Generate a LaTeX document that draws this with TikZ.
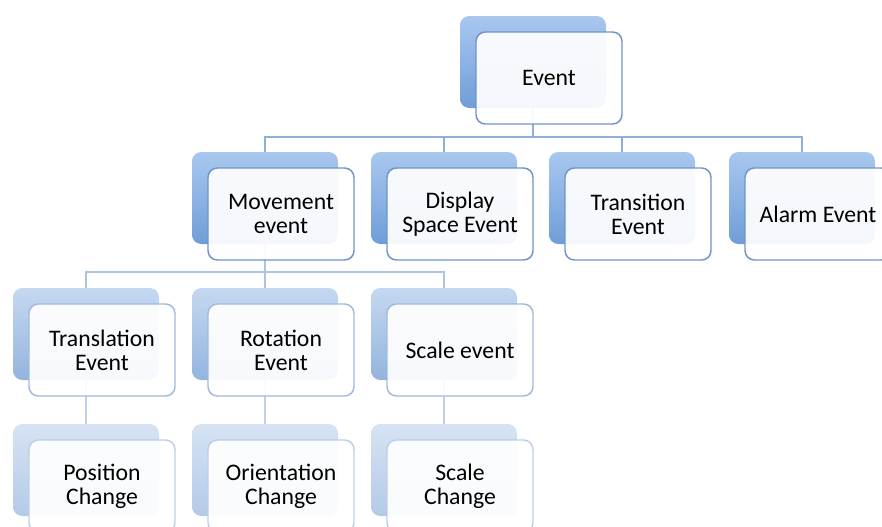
\documentclass[tikz,border=0pt]{standalone}
\usepackage{fontspec}
\setmainfont{Carlito}
\usetikzlibrary{positioning}

\definecolor{shadeTopA}{HTML}{A9C7EF}
\definecolor{shadeBotA}{HTML}{6E9ED8}
\definecolor{shadeTopB}{HTML}{C5D8F1}
\definecolor{shadeBotB}{HTML}{93B4DE}
\definecolor{shadeTopC}{HTML}{D6E3F4}
\definecolor{shadeBotC}{HTML}{B3CAE7}
\definecolor{edgeA}{HTML}{6F95C6}
\definecolor{edgeB}{HTML}{A0BADC}
\definecolor{edgeC}{HTML}{BDCFE7}
\definecolor{linkA}{HTML}{8FAFD9}
\definecolor{linkB}{HTML}{AEC3E2}
\definecolor{linkC}{HTML}{BFD0E8}

\newcommand{\lblfont}{\fontsize{17.8}{18}\selectfont}

\begin{document}
\begin{tikzpicture}[x=0.75pt, y=-0.75pt,
    box/.style={rounded corners=7pt, minimum width=109.5pt, minimum height=69pt, inner sep=0pt},
    back1/.style={box, top color=shadeTopA, bottom color=shadeBotA},
    back2/.style={box, top color=shadeTopB, bottom color=shadeBotB},
    back3/.style={box, top color=shadeTopC, bottom color=shadeBotC},
    front/.style={box, fill=white, fill opacity=0.93, text opacity=1, line width=1.1pt, align=center, font=\lblfont},
    front1/.style={front, draw=edgeA},
    front2/.style={front, draw=edgeB},
    front3/.style={front, draw=edgeC},
    link1/.style={draw=linkA, line width=1.1pt},
    link2/.style={draw=linkB, line width=1.1pt},
    link3/.style={draw=linkC, line width=1.1pt}]
    \useasboundingbox (0,0) rectangle (882,526);
    \clip (0,0) rectangle (882,526);
    % Back boxes
    \foreach \name/\x/\y/\lv in {ev/533/62/1, mov/265/198/1, dis/444/198/1, tra/622/198/1, ala/802/198/1,
        trl/86/334/2, rot/265/334/2, sca/444/334/2,
        pos/86/470/3, ori/265/470/3, scc/444/470/3} {
        \node[back\lv] (\name-b) at (\x,\y) {};
    }
    % Connectors
    \coordinate (bus-1) at (533,137);
    \coordinate (bus-2) at (265,272);
    \foreach \c in {mov,dis,tra,ala} {
        \draw[link1] (ev-b.south) -- (bus-1) -| (\c-b.north);
    }
    \foreach \c in {trl,rot,sca} {
        \draw[link2] (mov-b.south) -- (bus-2) -| (\c-b.north);
    }
    \foreach \a/\b in {trl/pos,rot/ori,sca/scc} {
        \draw[link3] (\a-b.south) -- (\b-b.north);
    }
    % Front boxes
    \foreach \name/\lv/\txt in {ev/1/Event, mov/1/{Movement\\event}, dis/1/{Display\\Space Event},
        tra/1/{Transition\\Event}, ala/1/Alarm Event,
        trl/2/{Translation\\Event}, rot/2/{Rotation\\Event}, sca/2/Scale event,
        pos/3/{Position\\Change}, ori/3/{Orientation\\Change}, scc/3/{Scale\\Change}} {
        \node[front\lv] (\name) at ([shift={(16,16)}]\name-b) {\txt};
    }
\end{tikzpicture}
\end{document}
